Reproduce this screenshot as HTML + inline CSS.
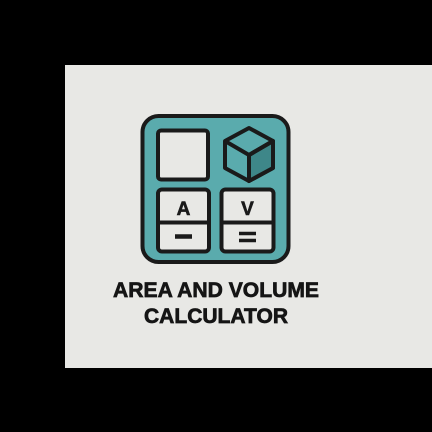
<!DOCTYPE html>
<html><head><meta charset="utf-8"><style>html,body{margin:0;padding:0;background:#000;}svg{display:block}</style></head>
<body>
<svg width="432" height="432" viewBox="0 0 432 432">
<rect x="0" y="0" width="432" height="432" fill="#000"/>
<rect x="65" y="65" width="367" height="303" fill="#e8e8e5"/>
<g stroke="#1a1a1a" stroke-width="4" stroke-linejoin="round">
<rect x="142.5" y="116" width="146" height="146" rx="16" fill="#5aabad"/>
<rect x="158" y="130.5" width="50" height="49" rx="3" fill="#e8e8e5"/>
<g>
<polygon points="249,128 273,141 273,168 249,181 225,168 225,141" fill="#5aabad"/>
<polygon points="249,155 273,141 273,168 249,181" fill="#3e8789"/>
<polyline points="225,141 249,155 273,141" fill="none"/>
<line x1="249" y1="155" x2="249" y2="181"/>
</g>
<g>
<rect x="158" y="189.5" width="51" height="62" rx="4" fill="#e8e8e5"/>
<line x1="158" y1="222.5" x2="209" y2="222.5"/>
<line x1="175" y1="236.5" x2="192" y2="236.5" stroke-width="4.5"/>
</g>
<g>
<rect x="221.5" y="189.5" width="52" height="62" rx="4" fill="#e8e8e5"/>
<line x1="221.5" y1="222.5" x2="273.5" y2="222.5"/>
<line x1="239" y1="233.5" x2="256" y2="233.5" stroke-width="3.5"/>
<line x1="239" y1="240.5" x2="256" y2="240.5" stroke-width="3.5"/>
</g>
</g>
<text x="183.5" y="215" text-anchor="middle" font-family="Liberation Sans, sans-serif" font-weight="bold" font-size="19" fill="#1a1a1a" stroke="#1a1a1a" stroke-width="0.6">A</text>
<text x="247.5" y="215" text-anchor="middle" font-family="Liberation Sans, sans-serif" font-weight="bold" font-size="19" fill="#1a1a1a" stroke="#1a1a1a" stroke-width="0.6">V</text>
<text x="113" y="297" textLength="206" lengthAdjust="spacingAndGlyphs" font-family="Liberation Sans, sans-serif" font-weight="bold" font-size="21" fill="#151515" stroke="#151515" stroke-width="0.7">AREA AND VOLUME</text>
<text x="144" y="323" textLength="144" lengthAdjust="spacingAndGlyphs" font-family="Liberation Sans, sans-serif" font-weight="bold" font-size="21" fill="#151515" stroke="#151515" stroke-width="0.7">CALCULATOR</text>
</svg>
</body></html>
